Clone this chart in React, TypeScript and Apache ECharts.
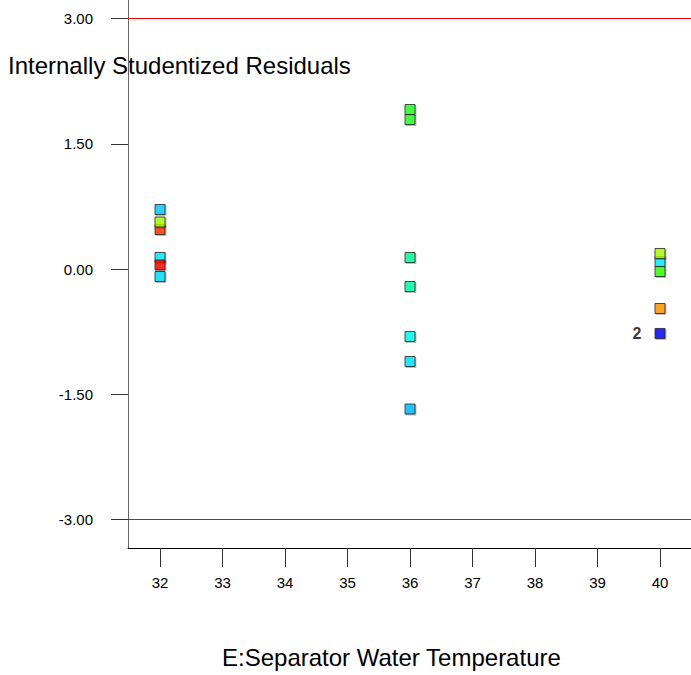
import React, { useEffect, useRef } from "react";
import * as echarts from "echarts";

const xValues = [32, 32, 32, 32, 32, 32, 36, 36, 36, 36, 36, 36, 36, 40, 40, 40, 40, 40];
const yValues = [0.473, 0.563, 0.713, 0.138, 0.048, -0.09, 1.91, 1.79, 0.138, -0.21, -0.808, -1.108, -1.677, 0.09, 0.186, -0.03, -0.473, -0.772];
const pointColors = ["#ff3300", "#aaff00", "#00ccff", "#00eeff", "#ff0000", "#00ddff", "#22ff22", "#22ff22", "#00ff99", "#00ffaa", "#00ffee", "#00e5ff", "#00bbff", "#00eeff", "#aaff00", "#33ff00", "#ff9900", "#0000ff"];
const pointLabels = ["", "", "", "", "", "", "", "", "", "", "", "", "", "", "", "", "", "2"];
const xTicks = [32, 33, 34, 35, 36, 37, 38, 39, 40];
const yTicks = [-3, -1.5, 0, 1.5, 3];
const limitLines = [3, -3];
const xMin = 31.488;
const xMax = 40.496;
const yMin = -3.341317;
const yMax = 3.221557;
const xTitle = "E:Separator Water Temperature";
const yTitle = "Internally Studentized Residuals";

export default function App() {
  const ref = useRef<HTMLDivElement>(null);
  useEffect(() => {
    const chart = echarts.init(ref.current!, null, { renderer: "svg" });
    const font = "Liberation Sans, Arial, sans-serif";
    const data = xValues.map((x, i) => ({
      value: [x, yValues[i]],
      itemStyle: { color: pointColors[i] },
      label: pointLabels[i]
        ? { show: true, formatter: pointLabels[i], position: "left", distance: 13, fontSize: 16, fontWeight: "bold", color: "#000", fontFamily: font }
        : { show: false },
    }));
    const limitSeries = limitLines.map((y) => ({
      type: "line",
      data: [[xMin, y], [xMax, y]],
      showSymbol: false,
      symbol: "none",
      silent: true,
      lineStyle: { color: "#ff0000", width: 1 },
      itemStyle: { color: "#ff0000" },
      z: 1,
    }));
    chart.setOption({
      animation: false,
      backgroundColor: "#fff",
      grid: { left: 128, top: 0, right: 0, bottom: 127, containLabel: false },
      xAxis: {
        type: "value",
        min: xMin,
        max: xMax,
        splitLine: { show: false },
        axisLine: { show: true, onZero: false, lineStyle: { color: "#000", width: 1 } },
        axisTick: { show: true, length: 19, customValues: xTicks, lineStyle: { color: "#333" } },
        axisLabel: { customValues: xTicks, margin: 27, fontSize: 15, color: "#000", fontFamily: font },
      },
      yAxis: {
        type: "value",
        min: yMin,
        max: yMax,
        splitLine: { show: false },
        axisLine: { show: true, onZero: false, lineStyle: { color: "#666", width: 1 } },
        axisTick: { show: true, length: 17, customValues: yTicks, lineStyle: { color: "#333" } },
        axisLabel: {
          customValues: yTicks,
          margin: 35,
          fontSize: 15,
          color: "#000",
          fontFamily: font,
          formatter: (v: number) => v.toFixed(2),
        },
      },
      graphic: [
        { type: "text", left: 8, top: 53, style: { text: yTitle, fontSize: 24, fontFamily: font, fill: "#000" } },
        { type: "text", left: 222, top: 645, style: { text: xTitle, fontSize: 24, fontFamily: font, fill: "#000" } },
      ],
      series: [
        ...limitSeries,
        {
          type: "scatter",
          symbol: "rect",
          symbolSize: 10,
          data,
          z: 3,
          itemStyle: { borderColor: "#222", borderWidth: 1, shadowColor: "rgba(0,0,0,0.3)", shadowOffsetX: 1, shadowOffsetY: 1 },
        },
      ],
    });
    return () => chart.dispose();
  }, []);
  return <div ref={ref} style={{ position: "fixed", left: 0, top: 0, width: 691, height: 675 }} />;
}
